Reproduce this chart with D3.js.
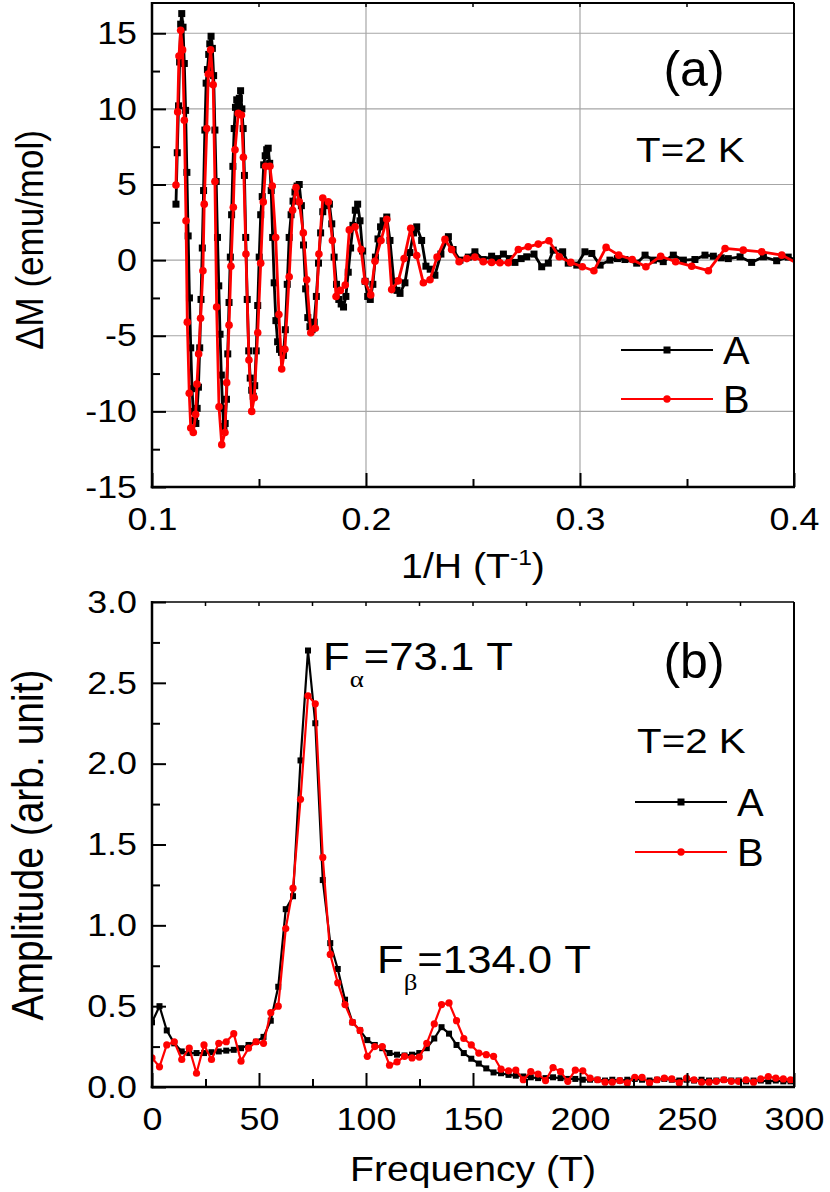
<!DOCTYPE html>
<html>
<head>
<meta charset="utf-8">
<script src="https://cdnjs.cloudflare.com/ajax/libs/d3/7.8.5/d3.min.js"></script>
<style>
  body { margin: 0; background: #fff; }
  text { font-family: "Liberation Sans", Arial, Helvetica, sans-serif; }
</style>
</head>
<body>
<div id="chart"></div>
<script>
// ---- panel (a): dM vs 1/H ----
var invH_A = [0.1112,0.1118,0.1124,0.1129,0.1134,0.1139,0.1145,0.1151,0.1157,0.1163,0.1169,0.1175,0.1181,0.1187,0.1193,0.1199,0.1205,0.1211,0.1217,0.1223,0.1229,0.1235,0.1241,0.1247,0.1253,0.1259,0.1265,0.1270,0.1276,0.1282,0.1288,0.1294,0.1300,0.1306,0.1312,0.1318,0.1324,0.1330,0.1336,0.1342,0.1348,0.1354,0.1360,0.1366,0.1372,0.1378,0.1384,0.1390,0.1396,0.1402,0.1408,0.1414,0.1420,0.1426,0.1432,0.1438,0.1445,0.1452,0.1459,0.1466,0.1473,0.1480,0.1487,0.1494,0.1501,0.1508,0.1515,0.1522,0.1529,0.1536,0.1543,0.1550,0.1557,0.1564,0.1571,0.1579,0.1587,0.1596,0.1605,0.1614,0.1623,0.1632,0.1641,0.1650,0.1659,0.1668,0.1678,0.1688,0.1698,0.1708,0.1718,0.1728,0.1738,0.1748,0.1758,0.1768,0.1778,0.1788,0.1798,0.1808,0.1818,0.1829,0.1840,0.1851,0.1862,0.1873,0.1884,0.1895,0.1906,0.1917,0.1928,0.1939,0.1950,0.1961,0.1972,0.1984,0.1996,0.2008,0.2020,0.2032,0.2044,0.2056,0.2068,0.2080,0.2097,0.2112,0.2130,0.2145,0.2159,0.2182,0.2205,0.2222,0.2237,0.2260,0.2280,0.2300,0.2322,0.2350,0.2385,0.2407,0.2439,0.2478,0.2509,0.2548,0.2587,0.2615,0.2642,0.2670,0.2696,0.2725,0.2751,0.2785,0.2821,0.2852,0.2875,0.2919,0.2945,0.2985,0.3023,0.3055,0.3094,0.3140,0.3175,0.3210,0.3265,0.3304,0.3343,0.3389,0.3436,0.3483,0.3537,0.3584,0.3623,0.3660,0.3693,0.3748,0.3802,0.3857,0.3919,0.3973,0.4030];
var dM_A = [3.7,7.1,10.2,13.1,15.6,16.3,15.4,13.0,9.9,5.8,1.6,-2.5,-5.8,-8.5,-10.0,-10.6,-10.8,-9.8,-8.4,-5.8,-2.6,0.8,4.6,8.6,11.7,12.6,13.6,14.3,14.8,14.0,12.2,8.6,5.2,1.5,-1.7,-4.9,-7.6,-9.8,-11.0,-10.8,-9.2,-6.2,-2.8,0.2,3.0,6.2,8.7,10.1,10.6,10.3,10.7,11.2,10.0,8.7,5.6,1.5,-2.6,-6.0,-7.8,-8.6,-9.0,-8.3,-6.0,-3.0,0.2,3.0,4.2,6.3,6.9,7.3,7.4,6.4,4.6,1.5,-1.5,-4.0,-5.4,-5.9,-6.1,-6.3,-4.6,-1.6,1.5,3.0,3.9,4.5,4.9,5.0,3.6,1.0,-1.9,-3.8,-4.4,-4.6,-4.1,-2.4,-0.2,1.8,3.2,3.6,3.8,3.7,2.4,0.2,-1.6,-2.6,-2.9,-3.1,-2.4,-0.8,0.8,2.3,3.3,3.7,2.6,0.6,-1.4,-2.4,-2.6,-1.6,0.2,1.4,2.2,2.6,2.85,1.3,-1.4,-2.0,-2.2,-1.5,0.5,1.8,2.2,1.3,-0.4,-0.6,-1.0,0.4,1.55,0.7,0.0,0.2,0.55,0.04,0.26,0.1,0.4,0.1,-0.15,0.1,0.22,0.4,-0.44,-0.2,0.66,0.55,-0.2,-0.33,0.55,0.44,-0.33,0.0,0.1,0.04,-0.2,0.33,0.0,-0.1,0.33,0.0,0.04,0.33,0.26,0.15,0.1,0.22,-0.15,0.22,-0.04,0.2,-0.1];
var invH_B = [0.1112,0.1120,0.1126,0.1134,0.1143,0.1151,0.1159,0.1165,0.1174,0.1181,0.1193,0.1204,0.1210,0.1218,0.1227,0.1238,0.1244,0.1256,0.1263,0.1274,0.1286,0.1294,0.1302,0.1313,0.1326,0.1341,0.1349,0.1360,0.1369,0.1380,0.1388,0.1403,0.1418,0.1427,0.1439,0.1453,0.1466,0.1478,0.1494,0.1508,0.1520,0.1531,0.1551,0.1562,0.1578,0.1593,0.1606,0.1621,0.1641,0.1657,0.1673,0.1688,0.1707,0.1723,0.1742,0.1763,0.1780,0.1798,0.1824,0.1843,0.1860,0.1880,0.1903,0.1922,0.1949,0.1977,0.1995,0.2022,0.2042,0.2070,0.2097,0.2120,0.2151,0.2178,0.2209,0.2237,0.2268,0.2299,0.2332,0.2369,0.2400,0.2435,0.2471,0.2509,0.2548,0.2587,0.2626,0.2665,0.2712,0.2758,0.2805,0.2855,0.2903,0.2957,0.3011,0.3065,0.3122,0.3181,0.3244,0.3308,0.3377,0.3447,0.3522,0.3600,0.3678,0.3763,0.3849,0.3943,0.4040];
var dM_B = [4.96,9.8,13.5,15.2,13.9,9.25,2.6,-4.1,-8.8,-11.1,-11.4,-10.2,-8.2,-6.2,-3.85,-0.7,3.7,8.7,12.3,13.9,11.6,5.2,-3.1,-9.7,-12.2,-11.4,-8.1,-4.3,-0.4,3.5,7.3,9.7,9.6,6.8,0.4,-6.6,-10.0,-9.1,-4.8,-0.2,3.85,6.2,6.2,4.9,1.5,-3.6,-7.2,-5.9,-1.1,3.3,4.8,3.85,1.8,-1.3,-4.8,-4.5,0.4,4.1,3.85,1.3,-2.4,-2.0,-1.65,2.0,2.2,0.7,-1.4,-2.3,-0.07,1.3,2.7,-1.95,-1.37,0.1,2.1,0.3,-1.5,-1.3,0.2,1.37,0.7,-0.1,0.1,0.2,-0.1,-0.15,-0.17,-0.17,0.7,0.88,1.06,1.28,0.22,-0.15,-0.44,-0.7,0.84,0.33,0.04,-0.44,0.26,-0.11,-0.4,-0.7,0.77,0.66,0.55,0.33,-0.4];
var xTicksA = [0.1, 0.2, 0.3, 0.4];
var xMinorA = [0.15, 0.25, 0.35];
var yTicksA = [-15, -10, -5, 0, 5, 10, 15];
var yMinorA = [-12.5, -7.5, -2.5, 2.5, 7.5, 12.5];

// ---- panel (b): FFT amplitude vs frequency ----
var freq = [0,3.5,6.9,10.4,13.9,17.4,20.8,24.3,27.8,31.2,34.7,38.2,41.6,45.1,48.6,52.1,55.5,59.0,62.5,65.9,69.4,72.9,76.3,79.8,83.3,86.8,90.2,93.7,97.2,100.6,104.1,107.6,111.0,114.5,118.0,121.5,124.9,128.4,131.9,135.3,138.8,142.3,145.7,149.2,152.7,156.2,159.6,163.1,166.6,170.0,173.5,177.0,180.4,183.9,187.4,190.9,194.3,197.8,201.3,204.7,208.2,211.7,215.1,218.6,222.1,225.6,229.0,232.5,236.0,239.4,242.9,246.4,249.8,253.3,256.8,260.3,263.7,267.2,270.7,274.1,277.6,281.1,284.5,288.0,291.5,295.0,298.4];
var amp_A = [0.40,0.50,0.35,0.27,0.22,0.21,0.21,0.21,0.215,0.22,0.225,0.23,0.24,0.26,0.28,0.31,0.41,0.62,1.10,1.18,2.02,2.70,2.25,1.28,0.89,0.73,0.54,0.40,0.35,0.29,0.26,0.24,0.21,0.20,0.195,0.20,0.21,0.24,0.30,0.37,0.33,0.26,0.21,0.175,0.145,0.115,0.09,0.085,0.075,0.07,0.065,0.06,0.055,0.055,0.06,0.055,0.05,0.05,0.045,0.045,0.045,0.04,0.045,0.04,0.045,0.05,0.045,0.04,0.045,0.05,0.045,0.04,0.045,0.04,0.045,0.04,0.04,0.045,0.04,0.04,0.035,0.04,0.04,0.035,0.04,0.035,0.035];
var amp_B = [0.18,0.125,0.26,0.28,0.17,0.24,0.085,0.26,0.17,0.27,0.28,0.33,0.16,0.24,0.28,0.27,0.46,0.50,0.98,1.23,1.78,2.42,2.37,1.42,0.82,0.645,0.51,0.40,0.35,0.19,0.25,0.25,0.135,0.155,0.19,0.18,0.185,0.27,0.39,0.51,0.52,0.41,0.30,0.26,0.21,0.20,0.19,0.11,0.10,0.105,0.045,0.095,0.08,0.04,0.12,0.095,0.035,0.105,0.10,0.055,0.045,0.03,0.03,0.04,0.025,0.06,0.06,0.025,0.045,0.055,0.05,0.025,0.055,0.045,0.03,0.03,0.035,0.045,0.035,0.035,0.045,0.03,0.05,0.065,0.055,0.05,0.045];
var xTicksB = [0, 50, 100, 150, 200, 250, 300];
var xMinorB = [25, 75, 125, 175, 225, 275];
var yTicksB = [0, 0.5, 1.0, 1.5, 2.0, 2.5, 3.0];
var yMinorB = [0.25, 0.75, 1.25, 1.75, 2.25, 2.75];

var seriesNames = ["A", "B"];
var seriesColors = ["#000000", "#ff0000"];

var W = 830, H = 1192;
var left = 152, right = 794;
var tickFont = 32, titleFont = 35, noteFont = 38;
// the original figure is a bit wider than tall, so text is stretched sideways
var stretch = 1.12;

var svg = d3.select("#chart").append("svg")
    .attr("width", W)
    .attr("height", H);

// horizontal text with the sideways stretch
function label(x0, y0, size, anchor) {
  return svg.append("text")
      .attr("transform", "translate(" + x0 + "," + y0 + ") scale(" + stretch + ",1)")
      .attr("text-anchor", anchor || "start")
      .attr("font-size", size);
}

function drawPanel(p) {
  var x = d3.scaleLinear().domain(p.xDomain).range([left, right]);
  var y = d3.scaleLinear().domain(p.yDomain).range([p.bottom, p.top]);
  var g = svg.append("g");

  // grid (only panel a has it)
  if (p.grid) {
    g.selectAll(".gx").data(p.xTicks.slice(1, -1)).enter().append("line")
        .attr("x1", d => x(d)).attr("x2", d => x(d))
        .attr("y1", p.top).attr("y2", p.bottom)
        .attr("stroke", "#a6a6a6").attr("stroke-width", 1.2);
    g.selectAll(".gy").data(p.yTicks.slice(1)).enter().append("line")
        .attr("x1", left).attr("x2", right)
        .attr("y1", d => y(d)).attr("y2", d => y(d))
        .attr("stroke", "#a6a6a6").attr("stroke-width", 1.2);
  }

  var clipId = "clip-" + p.name;
  svg.append("clipPath").attr("id", clipId).append("rect")
      .attr("x", left).attr("y", p.top)
      .attr("width", right - left).attr("height", p.bottom - p.top);

  var plot = g.append("g").attr("clip-path", "url(#" + clipId + ")");
  var line = d3.line().x(d => x(d[0])).y(d => y(d[1]));

  p.series.forEach(function(s, i) {
    var pts = d3.zip(s.x, s.y);
    plot.append("path").datum(pts)
        .attr("fill", "none")
        .attr("stroke", seriesColors[i])
        .attr("stroke-width", p.lw)
        .attr("stroke-linejoin", "round")
        .attr("d", line);
    if (i == 0) {
      plot.selectAll(".sq" + p.name).data(pts).enter().append("rect")
          .attr("x", d => x(d[0]) - p.sq / 2)
          .attr("y", d => y(d[1]) - p.sq / 2)
          .attr("width", p.sq).attr("height", p.sq)
          .attr("fill", seriesColors[i]);
    } else {
      plot.selectAll(".ci" + p.name).data(pts).enter().append("circle")
          .attr("cx", d => x(d[0]))
          .attr("cy", d => y(d[1]))
          .attr("r", p.r)
          .attr("fill", seriesColors[i]);
    }
  });

  // axes, ticks pointing inward
  g.append("g").attr("transform", "translate(0," + p.bottom + ")")
      .call(d3.axisBottom(x).tickValues(p.xTicks).tickSize(-14).tickPadding(20).tickFormat(p.xFmt));
  g.append("g").attr("transform", "translate(0," + p.bottom + ")")
      .call(d3.axisBottom(x).tickValues(p.xMinor).tickSize(-8).tickFormat(""));
  g.append("g").attr("transform", "translate(" + left + ",0)")
      .call(d3.axisLeft(y).tickValues(p.yTicks).tickSize(-14).tickPadding(15 / stretch).tickFormat(p.yFmt));
  g.append("g").attr("transform", "translate(" + left + ",0)")
      .call(d3.axisLeft(y).tickValues(p.yMinor).tickSize(-8).tickFormat(""));
  g.selectAll(".domain").remove();
  g.selectAll(".tick line").attr("stroke", "#000").attr("stroke-width", 2);
  g.selectAll(".tick text")
      .attr("font-size", tickFont)
      .attr("font-family", "'Liberation Sans', Arial, sans-serif")
      .attr("fill", "#000")
      .attr("transform", "scale(" + stretch + ",1)");

  // little mirror ticks on the top edge
  g.selectAll(".topt").data(p.xTicks.concat(p.xMinor)).enter().append("line")
      .attr("x1", d => x(d)).attr("x2", d => x(d))
      .attr("y1", p.top).attr("y2", p.top + 4)
      .attr("stroke", "#000").attr("stroke-width", 1.5);

  // frame
  g.append("line").attr("x1", left).attr("x2", right).attr("y1", p.top).attr("y2", p.top)
      .attr("stroke", "#000").attr("stroke-width", p.topW);
  g.append("line").attr("x1", right).attr("x2", right).attr("y1", p.top).attr("y2", p.bottom)
      .attr("stroke", "#000").attr("stroke-width", 2);
  g.append("line").attr("x1", left).attr("x2", left).attr("y1", p.top - 1).attr("y2", p.bottom + 1.25)
      .attr("stroke", "#000").attr("stroke-width", 2.5);
  g.append("line").attr("x1", left - 1.25).attr("x2", right + 1).attr("y1", p.bottom).attr("y2", p.bottom)
      .attr("stroke", "#000").attr("stroke-width", 2.5);

  // legend
  var lg = g.selectAll(".leg" + p.name).data(seriesNames).enter().append("g")
      .attr("transform", (d, i) => "translate(0," + (p.legY + i * p.legDy) + ")");
  lg.append("line")
      .attr("x1", p.legX).attr("x2", p.legX + 92)
      .attr("stroke", (d, i) => seriesColors[i]).attr("stroke-width", 2.2);
  lg.filter((d, i) => i == 0).append("rect")
      .attr("x", p.legX + 46 - 3.5).attr("y", -3.5).attr("width", 7).attr("height", 7)
      .attr("fill", seriesColors[0]);
  lg.filter((d, i) => i == 1).append("circle")
      .attr("cx", p.legX + 46).attr("r", 3.7)
      .attr("fill", seriesColors[1]);
  lg.append("text")
      .attr("transform", "translate(" + (p.legX + 102) + ",14) scale(1.05,1)")
      .attr("font-size", noteFont)
      .text(d => d);

  return {x: x, y: y, g: g};
}

var fmtPlain = d => String(d);

drawPanel({
  name: "a", top: 3, bottom: 487,
  xDomain: [0.1, 0.4], yDomain: [-15, 17],
  xTicks: xTicksA, xMinor: xMinorA, yTicks: yTicksA, yMinor: yMinorA,
  xFmt: d3.format(".1f"), yFmt: fmtPlain,
  grid: true, lw: 2.8, sq: 7, r: 3.8, topW: 2,
  series: [{x: invH_A, y: dM_A}, {x: invH_B, y: dM_B}],
  legX: 621, legY: 350, legDy: 49
});

drawPanel({
  name: "b", top: 602, bottom: 1087,
  xDomain: [0, 300], yDomain: [0, 3],
  xTicks: xTicksB, xMinor: xMinorB, yTicks: yTicksB, yMinor: yMinorB,
  xFmt: fmtPlain, yFmt: d3.format(".1f"),
  grid: false, lw: 2.2, sq: 6, r: 3.6, topW: 1.6,
  series: [{x: freq, y: amp_A}, {x: freq, y: amp_B}],
  legX: 635, legY: 802, legDy: 50
});

// axis titles
var xt = label(473, 578, titleFont, "middle");
xt.append("tspan").text("1/H (T");
xt.append("tspan").attr("dy", -13).attr("font-size", 22).text("-1");
xt.append("tspan").attr("dy", 13).text(")");

label(473, 1181, titleFont, "middle").text("Frequency (T)");

svg.append("text")
    .attr("transform", "translate(43,240) rotate(-90) scale(1," + stretch + ")")
    .attr("text-anchor", "middle")
    .attr("font-size", titleFont)
    .text("\u0394M (emu/mol)");

svg.append("text")
    .attr("transform", "translate(43,845) rotate(-90) scale(1," + stretch + ")")
    .attr("text-anchor", "middle")
    .attr("font-size", 39)
    .text("Amplitude (arb. unit)");

// panel labels and notes
svg.append("text").attr("x", 694).attr("y", 86).attr("text-anchor", "middle")
    .attr("font-size", 50).text("(a)");
svg.append("text").attr("x", 694).attr("y", 678).attr("text-anchor", "middle")
    .attr("font-size", 50).text("(b)");
label(636, 162, 36).text("T=2 K");
label(637, 753, 36).text("T=2 K");

function peakLabel(x0, y0, sub, rest) {
  var t = label(x0, y0, 39);
  t.append("tspan").text("F");
  t.append("tspan").attr("dy", 17).attr("font-size", 24)
      .style("font-family", "'Liberation Serif', 'DejaVu Serif', serif").text(sub);
  t.append("tspan").attr("dy", -17).text(rest);
}
peakLabel(323, 670, "\u03b1", "=73.1 T");
peakLabel(377, 973, "\u03b2", "=134.0 T");
</script>
</body>
</html>
